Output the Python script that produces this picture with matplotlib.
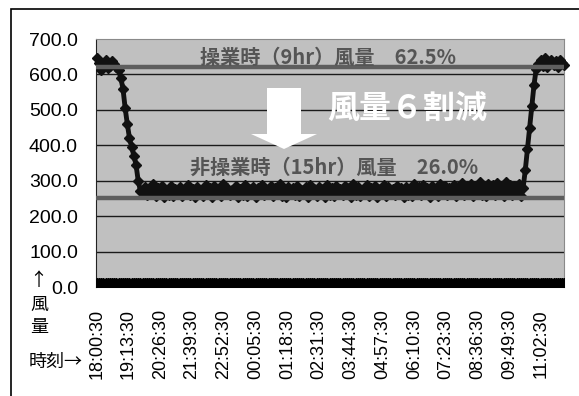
import matplotlib

matplotlib.use("Agg")

import matplotlib.pyplot as plt
import numpy as np
from matplotlib.patches import Polygon, Rectangle

# airflow sampled every 5 minutes from 18:00:30
start_high = [645, 632, 612, 628, 640, 618, 625, 638, 630, 622]
ramp_down = [612, 590, 560, 505, 460, 420, 395, 370, 345, 300, 272]
night_band = [
    268, 281, 259, 276, 262, 290, 257, 279, 265, 284,
    255, 273, 261, 286, 258, 277, 270, 283, 256, 274,
    263, 288, 259, 278, 254, 281, 266, 275, 258, 287,
    262, 279, 253, 284, 268, 276, 257, 291, 264, 280,
    259, 274, 266, 285, 255, 278, 261, 289, 257, 276,
    265, 282, 254, 279, 268, 287, 259, 275, 262, 284,
    256, 280, 264, 290, 258, 277, 253, 283, 267, 279,
    260, 286, 257, 274, 265, 281, 255, 288, 262, 278,
    258, 283, 266, 276, 254, 289, 261, 280, 256, 285,
    264, 277, 259, 284, 267, 279, 255, 291, 260, 282,
    257, 275, 263, 287, 258, 280, 266, 284, 253, 278,
    262, 289, 256, 281, 265, 276, 259, 286, 268, 279,
    255, 283, 261, 278, 257, 290, 264, 282, 259, 287,
    266, 280, 254, 285, 262, 277, 258, 292, 265, 284,
    259, 279, 268, 288, 256, 283, 263, 294, 260, 286,
    267, 290, 258, 284, 264, 296, 261, 282, 257, 291,
    263, 287, 259, 293, 266, 285, 258, 295, 262, 289,
    260, 284, 265, 292, 258,
]
ramp_up = [280, 330, 390, 450, 510, 570, 615]
end_high = [630, 640, 625, 645, 620, 635, 642, 628, 638, 622, 640, 633, 626]

airflow = start_high + ramp_down + night_band + ramp_up + end_high
zero_series = [0.0] * len(airflow)

SAMPLE_MIN = 5
TICK_EVERY_MIN = 73
tick_labels = [
    "18:00:30", "19:13:30", "20:26:30", "21:39:30", "22:52:30",
    "00:05:30", "01:18:30", "02:31:30", "03:44:30", "04:57:30",
    "06:10:30", "07:23:30", "08:36:30", "09:49:30", "11:02:30",
]

op_level = 620
off_level = 250

W, H = 579, 396


def fx(px):
    return px / W


def fy(py):
    return 1 - py / H


plt.rcParams["font.family"] = ["Liberation Sans", "Noto Sans CJK JP", "DejaVu Sans"]
JP = ["Noto Sans CJK JP", "DejaVu Sans"]

fig = plt.figure(figsize=(W / 100, H / 100), dpi=100)
fig.patch.set_facecolor("white")
ax = fig.add_axes([fx(96), fy(287), fx(564) - fx(96), fy(39) - fy(287)])
ax.set_facecolor("#c0c0c0")

minutes = np.arange(len(airflow)) * SAMPLE_MIN

for y in range(100, 700, 100):
    ax.axhline(y, color="#1a1a1a", linewidth=1.0, zorder=1)

ax.plot(minutes, airflow, color="#111111", linewidth=3.5, marker="D",
        markersize=5, markeredgecolor="#111111", zorder=3, clip_on=False,
        solid_joinstyle="round")
ax.plot(minutes, zero_series, color="black", linewidth=3, marker="D",
        markersize=9, zorder=3)

ax.axhline(op_level, color="#5e5e5e", linewidth=3.2, zorder=4)
ax.axhline(off_level, color="#5e5e5e", linewidth=3.2, zorder=4)

ax.set_xlim(-2, 1074)
ax.set_ylim(0, 700)
ax.set_yticks(range(0, 800, 100))
ax.set_yticklabels([f"{v:.1f}" for v in range(0, 800, 100)], fontsize=14)
ax.set_xticks(np.arange(len(tick_labels)) * TICK_EVERY_MIN)
ax.set_xticklabels(tick_labels, rotation=90, fontsize=13)
ax.tick_params(axis="y", length=0, pad=13)
ax.tick_params(axis="x", length=0, pad=16)

for side in ["top", "right", "bottom"]:
    ax.spines[side].set_color("#8a8a8a")
ax.spines["left"].set_color("#222222")

fig.text(fx(200), fy(57), "操業時（9hr）風量　62.5%", family=JP, fontsize=14.5,
         fontweight="bold", color="#555555", ha="left", va="center", zorder=6)
fig.text(fx(190), fy(167), "非操業時（15hr）風量　26.0%", family=JP, fontsize=14.5,
         fontweight="bold", color="#555555", ha="left", va="center", zorder=6)
fig.text(fx(327), fy(110), "風量６割減", family=JP, fontsize=23,
         fontweight="bold", color="white", ha="left", va="center", zorder=6)

arrow_px = [(267, 88), (301, 88), (301, 134), (317, 134), (284, 149), (251, 134), (267, 134)]
fig.add_artist(Polygon([(fx(x), fy(y)) for x, y in arrow_px], closed=True,
                       facecolor="white", edgecolor="none",
                       transform=fig.transFigure, zorder=6))

fig.text(fx(38), fy(281), "↑", family=JP, fontsize=13, ha="center", va="center")
fig.text(fx(39), fy(305), "風", family=JP, fontsize=13, ha="center", va="center")
fig.text(fx(39), fy(327), "量", family=JP, fontsize=13, ha="center", va="center")
fig.text(fx(29), fy(362), "時刻→", family=JP, fontsize=13, ha="left", va="center")

fig.add_artist(Rectangle((fx(11), -0.2), 2, fy(9) + 0.2, fill=False,
                         edgecolor="black", linewidth=1.2,
                         transform=fig.transFigure))

fig.savefig("out.png", dpi=100)
